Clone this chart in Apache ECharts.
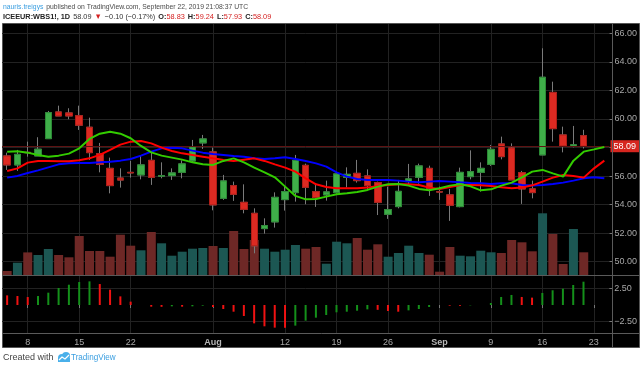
<!DOCTYPE html>
<html><head><meta charset="utf-8">
<script src="https://cdn.jsdelivr.net/npm/echarts@6/dist/echarts.min.js"></script>
<style>html,body{margin:0;padding:0;background:#fff}#c{width:640px;height:367px}</style>
</head><body><div id="c"></div>
<script>
const dates = ['2019-07-04','2019-07-05','2019-07-08','2019-07-09','2019-07-10','2019-07-11','2019-07-12',
'2019-07-15','2019-07-16','2019-07-17','2019-07-18','2019-07-19','2019-07-22','2019-07-23','2019-07-24','2019-07-25','2019-07-26',
'2019-07-29','2019-07-30','2019-07-31','2019-08-01','2019-08-02','2019-08-05','2019-08-06','2019-08-07','2019-08-08','2019-08-09',
'2019-08-12','2019-08-13','2019-08-14','2019-08-15','2019-08-16','2019-08-19','2019-08-20','2019-08-21','2019-08-22','2019-08-23',
'2019-08-26','2019-08-27','2019-08-28','2019-08-29','2019-08-30','2019-09-02','2019-09-03','2019-09-04','2019-09-05','2019-09-06',
'2019-09-09','2019-09-10','2019-09-11','2019-09-12','2019-09-13','2019-09-16','2019-09-17','2019-09-18','2019-09-19','2019-09-20',
'2019-09-23','2019-09-24'];
const open  = [57.41,56.78,57.66,57.41,58.62,60.49,60.42,60.23,59.42,57.57,56.54,55.86,56.26,56.08,57.10,55.99,56.03,56.26,57.06,58.32,
57.69,54.44,55.33,54.16,53.39,52.32,52.79,54.35,54.84,56.75,54.91,54.68,54.84,55.91,56.19,56.01,55.54,53.32,53.86,55.61,
55.91,56.54,54.90,54.68,53.86,55.96,56.26,56.82,58.25,57.97,56.24,55.10,57.48,61.86,58.88,58.08,58.83];
const high  = [57.64,57.83,58.41,58.72,60.56,60.93,60.75,60.93,60.09,58.32,57.29,56.54,57.06,57.41,57.71,56.96,56.54,57.10,58.53,58.88,
57.99,56.08,55.61,55.42,53.74,53.04,54.86,55.26,57.48,56.87,55.38,55.68,56.26,56.61,57.13,56.47,55.61,55.26,55.73,56.85,
56.87,56.73,55.26,55.10,56.59,57.80,56.96,58.18,58.76,58.29,56.36,55.68,64.95,62.61,59.46,59.51,59.24];
const low   = [56.43,56.36,57.36,57.41,58.62,60.21,59.98,59.23,57.13,56.26,54.79,55.19,55.89,55.77,55.38,55.84,55.73,55.84,56.94,57.90,
53.60,54.33,54.26,53.39,50.59,51.97,52.39,53.58,54.21,54.02,53.84,54.28,54.79,55.21,55.54,55.00,53.27,53.00,53.74,55.38,
55.47,54.61,54.33,52.86,53.81,55.77,54.91,56.71,57.17,55.73,54.05,54.44,57.48,58.41,57.66,58.01,57.93];
const close = [56.78,57.52,57.64,57.88,60.44,60.21,60.21,59.56,57.64,56.82,55.33,55.72,56.22,56.78,55.91,56.03,56.22,56.85,58.04,58.60,
53.98,55.66,54.72,53.67,51.11,52.53,54.51,54.91,57.10,55.21,54.49,54.89,56.15,56.12,55.68,55.33,54.16,53.65,54.93,55.80,
56.71,55.14,54.88,53.95,56.26,56.31,56.54,57.87,57.36,55.73,55.10,54.84,62.92,59.32,58.11,58.19,58.09];
const volume = [4000,12300,22600,20000,26000,20000,17700,39000,24000,24000,18300,40300,29300,24700,43000,31700,19300,23300,26300,27000,
29000,27000,44000,26000,35000,26300,23300,25300,30000,26300,28000,11300,33300,31700,37000,25300,30700,18300,22000,29300,
22000,20300,3300,28000,19300,18700,24300,22700,22000,35000,32700,23700,61700,41000,11000,46000,22700];
const jaw   = [55.89,56.01,56.22,56.40,56.61,56.82,56.89,56.92,56.92,56.96,57.01,57.08,57.20,57.43,57.71,57.94,57.99,57.94,57.78,57.64,
57.55,57.48,57.41,57.35,57.24,57.20,57.24,57.31,57.20,57.06,56.89,56.66,56.26,55.96,55.80,55.73,55.73,55.73,55.68,55.61,
55.56,55.61,55.66,55.61,55.56,55.52,55.50,55.45,55.49,55.49,55.38,55.33,55.38,55.45,55.54,55.68,55.84,55.91,55.84];
const teeth = [56.36,56.54,56.94,57.06,57.06,57.03,57.03,57.10,57.24,57.48,57.83,58.20,58.41,58.46,58.29,57.99,57.76,57.59,57.48,57.36,
57.24,57.13,57.06,57.15,57.24,57.06,56.82,56.59,56.31,55.84,55.42,55.24,55.14,55.14,55.14,55.19,55.31,55.38,55.42,55.42,
55.38,55.19,55.10,55.24,55.38,55.38,55.35,55.31,55.21,55.14,55.19,55.35,55.61,55.89,56.08,56.01,55.89,56.54,57.08];
const lips  = [57.71,57.73,57.64,57.48,57.36,57.43,57.57,57.94,58.60,58.97,59.11,58.97,58.65,58.11,57.66,57.43,57.29,57.15,56.96,56.82,
56.78,57.06,57.24,56.96,56.59,56.26,55.91,55.26,54.61,54.37,54.40,54.56,54.72,54.79,54.89,55.03,55.26,55.42,55.45,55.33,
55.10,55.00,55.14,55.33,55.42,55.28,55.00,55.07,55.33,55.54,55.91,56.31,56.43,56.19,55.96,57.08,57.71,57.87,58.04];
const ao = [1.44,1.34,1.19,1.34,1.84,2.54,3.03,3.43,3.53,3.13,2.29,1.29,0.5,0,-0.25,-0.27,-0.2,-0.25,-0.2,-0.1,
-0.3,-0.6,-1.0,-1.64,-2.74,-3.18,-3.38,-3.4,-3.08,-2.34,-1.89,-1.49,-1.09,-1.0,-0.85,-0.65,-0.72,-0.9,-1.0,-0.8,
-0.6,-0.3,0,-0.1,-0.12,-0.05,0,0.3,1.2,1.5,1.2,1.1,1.8,2.2,2.44,2.99,3.48];
const xTickDates = ['2019-07-08','2019-07-15','2019-07-22','2019-08-01','2019-08-12','2019-08-19','2019-08-26','2019-09-02','2019-09-09','2019-09-16','2019-09-23'];
const priceTicks = [50,52,54,56,58,60,62,64,66];
const aoTicks = [-2.5,2.5];
const lastPrice = 58.09;

const UP='#3fae49', DOWN='#dc2a22', UPB='#2b8a35', DOWNB='#b01d17';
const VUP='#1c5753', VDOWN='#6e2826';
const tickSet = new Set(xTickDates);
const monthNames=['Jan','Feb','Mar','Apr','May','Jun','Jul','Aug','Sep','Oct','Nov','Dec'];
function isFirstOfMonth(d){const i=dates.indexOf(d);return i>0 && dates[i-1].slice(5,7)!==d.slice(5,7);}
function xLabel(d){ if(isFirstOfMonth(d)) return '{m|'+monthNames[+d.slice(5,7)-1]+'}'; return String(+d.slice(8,10)); }
const tickInt=(i,v)=>tickSet.has(v);

const wickData = open.map((o,i)=>[o,close[i],low[i],high[i]]);
const bodyData = open.map((o,i)=>[o,close[i],Math.min(o,close[i]),Math.max(o,close[i])]);
const volData = volume.map((v,i)=>({value:v,itemStyle:{color: close[i]>=open[i]?VUP:VDOWN}}));
const aoData = ao.map((v,i)=>({value:v,itemStyle:{color: (i>0 && v>ao[i-1])?'#14901a':'#f01212'}}));

const FONT='Liberation Sans';
const chart = echarts.init(document.getElementById('c'),null,{renderer:'canvas'});
chart.setOption({
  animation:false,
  backgroundColor:'#ffffff',
  textStyle:{fontFamily:FONT},
  graphic:[
    {type:'rect',z:-100,silent:true,shape:{x:2.5,y:23.5,width:637,height:324},style:{fill:'#000',stroke:'#555',lineWidth:1}},
    {type:'line',z:100,silent:true,shape:{x1:612.5,y1:23.5,x2:612.5,y2:347.5},style:{stroke:'#5a5a5a',lineWidth:1}},
    {type:'line',z:100,silent:true,shape:{x1:2.5,y1:275.5,x2:640,y2:275.5},style:{stroke:'#5a5a5a',lineWidth:1}},
    {type:'line',z:100,silent:true,shape:{x1:2.5,y1:333.5,x2:640,y2:333.5},style:{stroke:'#5a5a5a',lineWidth:1}},
    {type:'text',x:3,y:1,scaleX:0.85,style:{text:'{a|nauris.treigys} {b|published on TradingView.com, September 22, 2019 21:08:37 UTC}',
      rich:{a:{fill:'#3a9ee0',font:'8px '+FONT},b:{fill:'#4a4a4a',font:'8px '+FONT}}}},
    {type:'text',x:3,y:11,scaleX:0.915,style:{text:'{k|ICEEUR:WBS1!, 1D} {n|58.09} {r|\u25BC} {n|\u22120.10 (\u22120.17%)} {k|O:}{v|58.83} {k|H:}{v|59.24} {k|L:}{v|57.93} {k|C:}{v|58.09}',
      rich:{k:{fill:'#222',font:'bold 8px '+FONT},n:{fill:'#333',font:'8px '+FONT},r:{fill:'#d42020',font:'8px '+FONT},v:{fill:'#d42020',font:'8px '+FONT}}}},
    {type:'text',x:3,y:353,style:{text:'Created with',fill:'#444',font:'9px '+FONT}},
    {type:'group',x:57,y:352,children:[
      {type:'circle',shape:{cx:5,cy:6,r:4},style:{fill:'#4ab0ea'}},
      {type:'circle',shape:{cx:9,cy:4,r:4},style:{fill:'#4ab0ea'}},
      {type:'rect',shape:{x:1,y:6,width:12,height:4},style:{fill:'#4ab0ea'}},
      {type:'polyline',shape:{points:[[2,8],[5,5],[8,7],[12,3]]},style:{stroke:'#fff',lineWidth:1.2,fill:null}}
    ]},
    {type:'text',x:71,y:353,scaleX:0.9,style:{text:'TradingView',fill:'#3a9ee0',font:'9px '+FONT}}
  ],
  grid:[
    {left:2,right:28,top:24,height:251},
    {left:2,right:28,top:276,height:57}
  ],
  xAxis:[
    {type:'category',gridIndex:0,data:dates,boundaryGap:true,axisLine:{show:false},axisTick:{show:false},axisLabel:{show:false},
     splitLine:{show:true,interval:tickInt,alignWithLabel:true,lineStyle:{color:'#222',width:1}}},
    {type:'category',gridIndex:1,data:dates,boundaryGap:true,axisLine:{show:false},
     axisTick:{show:true,interval:tickInt,alignWithLabel:true,length:3,lineStyle:{color:'#777'}},
     axisLabel:{show:true,interval:tickInt,formatter:xLabel,color:'#a8a8a8',fontSize:9,margin:5,rich:{m:{fontWeight:'bold',color:'#b8b8b8',fontSize:9}}},
     splitLine:{show:true,interval:tickInt,alignWithLabel:true,lineStyle:{color:'#222',width:1}}}
  ],
  yAxis:[
    {type:'value',gridIndex:0,position:'right',min:49.07,max:66.65,scale:true,
     axisLine:{show:false},
     axisTick:{show:true,customValues:priceTicks,length:3,lineStyle:{color:'#777'}},
     axisLabel:{customValues:priceTicks,formatter:v=>v.toFixed(2),color:'#a8a8a8',fontSize:9,margin:5},
     splitLine:{show:true,lineStyle:{color:'#222',width:1}}},
    {type:'value',gridIndex:0,min:0,max:251000,show:false,splitLine:{show:false}},
    {type:'value',gridIndex:1,position:'right',min:-4.18,max:4.33,
     axisLine:{show:false},
     axisTick:{show:true,customValues:aoTicks,length:3,lineStyle:{color:'#777'}},
     axisLabel:{customValues:aoTicks,formatter:v=>(v<0?'\u22122.50':'2.50'),color:'#a8a8a8',fontSize:9,margin:5},
     splitLine:{show:true,lineStyle:{color:'#222',width:1}}}
  ],
  series:[
    {type:'bar',name:'Volume',xAxisIndex:0,yAxisIndex:1,data:volData,barWidth:9,z:1},
    {type:'candlestick',name:'wick',xAxisIndex:0,yAxisIndex:0,data:wickData,barWidth:7,z:3,
     itemStyle:{color:'#7a7a7a',color0:'#7a7a7a',borderColor:'#7a7a7a',borderColor0:'#7a7a7a',borderWidth:1}},
    {type:'candlestick',name:'WBS1!',xAxisIndex:0,yAxisIndex:0,data:bodyData,barWidth:7,z:4,
     itemStyle:{color:UP,color0:DOWN,borderColor:UPB,borderColor0:DOWNB,borderWidth:1},
     markLine:{silent:true,symbol:['none','none'],animation:false,
       lineStyle:{color:'#5e1212',type:'solid',width:1},
       label:{show:true,position:'end',formatter:()=>lastPrice.toFixed(2),color:'#fff',backgroundColor:'#d6261f',padding:[2,3,1,3],fontSize:9,distance:1},
       data:[{yAxis:lastPrice}]}},
    {type:'line',name:'Jaw',xAxisIndex:0,yAxisIndex:0,data:jaw,symbol:'none',lineStyle:{color:'#0000ff',width:2},z:5},
    {type:'line',name:'Teeth',xAxisIndex:0,yAxisIndex:0,data:teeth,symbol:'none',lineStyle:{color:'#ff0000',width:2},z:6},
    {type:'line',name:'Lips',xAxisIndex:0,yAxisIndex:0,data:lips,symbol:'none',lineStyle:{color:'#33cc00',width:2},z:7},
    {type:'bar',name:'AO',xAxisIndex:1,yAxisIndex:2,data:aoData,barWidth:2}
  ]
});
</script></body></html>
